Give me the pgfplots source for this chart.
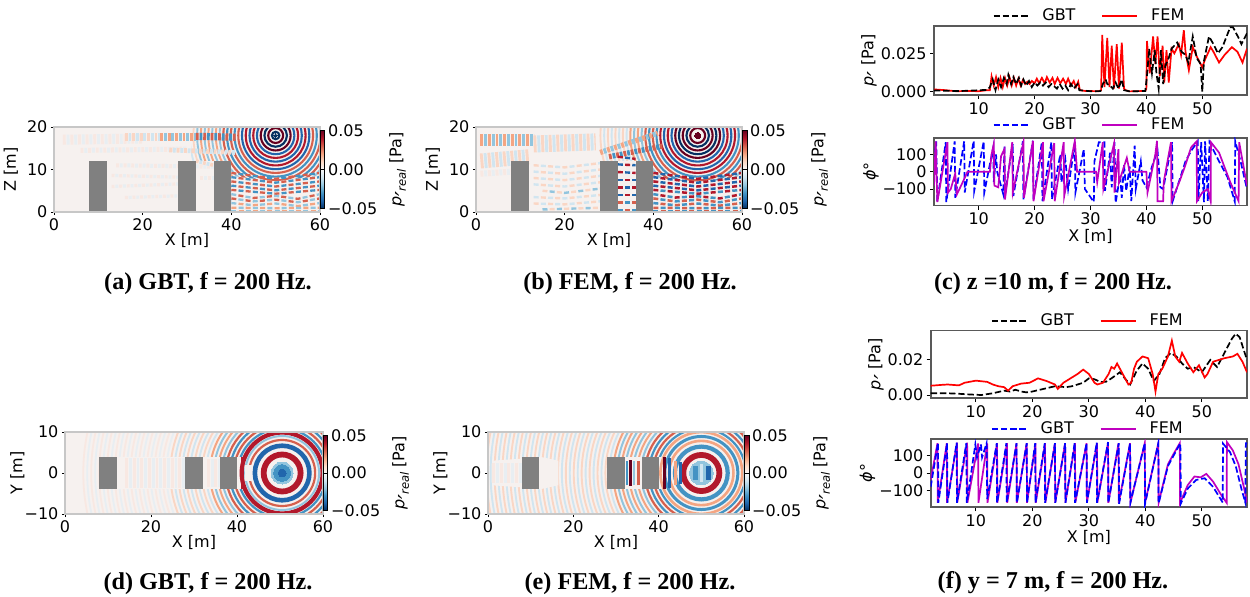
\documentclass[border=0pt]{standalone}
\usepackage{fontspec}
\setmainfont{DejaVu Sans}
\newfontfamily\capfont{Liberation Serif}
\usepackage{pgfplots}
\pgfplotsset{compat=1.18}
\definecolor{R1}{RGB}{103,0,31}\definecolor{R2}{RGB}{178,24,43}\definecolor{R3}{RGB}{214,96,77}
\definecolor{R4}{RGB}{244,165,130}\definecolor{R5}{RGB}{250,214,196}\definecolor{R6}{RGB}{248,232,226}
\definecolor{B1}{RGB}{5,48,97}\definecolor{B2}{RGB}{33,102,172}\definecolor{B3}{RGB}{67,147,195}
\definecolor{B4}{RGB}{146,197,222}\definecolor{B5}{RGB}{209,229,240}\definecolor{B6}{RGB}{232,238,242}
\definecolor{pale}{RGB}{246,241,239}
\definecolor{mag}{rgb}{0.75,0,0.75}
\newcommand{\fz}{\fontsize{8}{9.5}\selectfont}
\newcommand{\primeg}{\smash{\raisebox{-5.2pt}{\fontsize{11}{11}\selectfont\itshape ′}}}
\newcommand{\preal}{\textit{p}\primeg\raisebox{-0.5ex}{\fontsize{5.8}{6}\selectfont\itshape real} [Pa]}
\newcommand{\pp}{\textit{p}\primeg\ [Pa]}
\newcommand{\phideg}{\textit{ϕ}°}
\newcommand{\band}[5]{%
 \addplot[forget plot,no markers,draw=#1,line width=#3pt,dash pattern=on 0.75*#4pt off 1.25*#4pt] coordinates {#5};
 \addplot[forget plot,no markers,draw=#2,line width=#3pt,dash pattern=on 0.75*#4pt off 1.25*#4pt,dash phase=#4pt] coordinates {#5};}
\newcommand{\rows}[4]{%
 \addplot[forget plot,no markers,draw=#1,line width=#3pt,dash pattern=on 2.5pt off 4.7pt] coordinates {#4};
 \addplot[forget plot,no markers,draw=#2,line width=#3pt,dash pattern=on 2.5pt off 4.7pt,dash phase=3.6pt] coordinates {#4};}
\newcommand{\rings}[5]{%
 \pgfplotsinvokeforeach{#5}{\addplot[forget plot,only marks,mark=o,mark size=2.2pt*##1,mark options={draw=#3,fill=none,line width=#4pt,solid}] coordinates {(#1,#2)};}}
\newcommand{\poly}[2]{\addplot[forget plot,fill=#1,draw=none,no markers] coordinates {#2} -- cycle;}
\newcommand{\seg}[3]{\addplot[forget plot,no markers,draw=#1,line width=#2pt] coordinates {#3};}
\newcommand{\blob}[4]{\addplot[forget plot,only marks,mark=*,mark size=2.2pt*#4,mark options={draw=#3,line width=0pt,fill=#3,solid}] coordinates {(#1,#2)};}
\newcommand{\capt}[3]{\node[font=\capfont\bfseries\fontsize{12.1}{14}\selectfont,inner sep=0pt] at (#1pt,#2pt) {#3};}
\pgfplotsset{
 fieldax/.style={scale only axis,axis on top,clip mode=individual,clip marker paths=true,xmin=0,xmax=60,xtick={0,20,40,60},xticklabels={0,20,40,60},
  tick align=outside,xtick pos=bottom,ytick pos=left,major tick length=1.6pt,
  axis line style={black!22,line width=0.7pt},tick style={black,line width=0.4pt},
  ticklabel style={font=\fz,inner sep=1.5pt},label style={font=\fz},xlabel={X [m]},
  axis background/.style={fill=pale},
  xlabel style={yshift=3.5pt},ylabel style={yshift=-5pt},
  colormap={rdbu}{rgb255=(5,48,97) rgb255=(33,102,172) rgb255=(67,147,195) rgb255=(146,197,222) rgb255=(209,229,240) rgb255=(247,247,247) rgb255=(253,219,199) rgb255=(244,165,130) rgb255=(214,96,77) rgb255=(178,24,43) rgb255=(103,0,31)},
  colorbar,point meta min=-0.05,point meta max=0.05,
  colorbar style={at={(1,0.5)},anchor=west,xshift=6pt,width=2.4pt,height=39pt,scaled y ticks=false,
   ytick={-0.05,0,0.05},yticklabels={−0.05,0.00,0.05},ylabel={\preal},
   ticklabel style={font=\fz,inner sep=1.5pt},label style={font=\fz},
   major tick length=1.6pt,tick style={black,line width=0.4pt},axis line style={black,line width=0.3pt},
   ylabel style={yshift=-1pt}}},
 lineax/.style={scale only axis,xmin=2,xmax=58,xtick={10,20,30,40,50},xticklabels={10,20,30,40,50},scaled y ticks=false,
  tick align=outside,xtick pos=bottom,ytick pos=left,major tick length=2pt,
  axis line style={black!65,line width=0.8pt},tick style={black,line width=0.5pt},
  ticklabel style={font=\fz,inner sep=1.5pt},label style={font=\fz},
  legend image code/.code={\draw[##1] (0pt,0pt) -- (17.5pt,0pt);},
  legend style={at={(0.5,1)},anchor=south,draw=none,fill=none,legend columns=2,font=\fz,inner sep=0pt,yshift=-1pt,
   /tikz/every odd column/.append style={column sep=4.5pt},
   /tikz/every even column/.append style={column sep=11pt}}},
 dGBT/.style={black,line width=0.85pt,dash pattern=on 3.2pt off 1.4pt},
 dFEM/.style={red,line width=0.85pt},
 pGBT/.style={blue,line width=0.85pt,dash pattern=on 3.2pt off 1.4pt},
 pFEM/.style={mag,line width=0.85pt},
}
\begin{document}
\begin{tikzpicture}
\useasboundingbox (0,0) rectangle (625pt,298pt);
% ---------- (a)
\begin{axis}[fieldax,at={(27pt,192pt)},anchor=south west,width=133pt,height=42.5pt,ymin=0,ymax=20,
 ytick={0,10,20},yticklabels={0,10,20},ylabel={Z [m]},ylabel style={yshift=4.5pt}]
\rings{50}{18}{R5}{0.9}{18.7,20.4,22.1}
\rings{50}{18}{B5}{0.9}{19.55,21.25,22.95}
\rings{50}{18}{R4}{0.95}{13.6,15.3,17}
\rings{50}{18}{B4}{0.95}{12.75,14.45,16.15,17.85}
\rings{50}{18}{R3}{1.05}{8.5,10.2,11.9}
\rings{50}{18}{B3}{1.05}{9.35,11.05}
\rings{50}{18}{R2}{1.05}{5.1,6.8}
\rings{50}{18}{B2}{1.05}{4.25,5.95,7.65}
\rings{50}{18}{R1}{1.05}{1.7,3.4}
\rings{50}{18}{B1}{1.05}{0.85,2.55}
\blob{50}{18}{B1}{0.4}
\poly{pale}{(0,0)(40,0)(40,12)(0,12)}
\poly{pale}{(0,12)(31,12)(31,20)(0,20)}
\poly{pale}{(40,0)(60,0)(60,8.5)(50,7.2)(40,8.5)}
\band{R6}{B6}{5}{1.9}{(2,17)(20,17.3)}
\band{R6}{B6}{2.5}{1.9}{(6,14.5)(30,14.8)}
\band{R5}{B5}{2.4}{1.85}{(26,14.6)(41,14)}
\band{R6}{B6}{2}{1.9}{(14,11)(40,10.6)}
\band{R6}{B6}{1.6}{1.9}{(13,8.6)(28,8.2)}
\band{R6}{B6}{1.6}{1.9}{(13,6)(28,6.6)}
\band{R6}{B6}{1.6}{1.9}{(16,3.4)(28,3.8)}
\band{R5}{B5}{1.8}{1.85}{(32,12)(36,11)}
\band{R6}{B6}{1.6}{1.9}{(33,8)(36,8)}
\band{R5}{B5}{3.8}{1.85}{(16,17.6)(24,17.6)}
\band{R4}{B4}{4}{1.85}{(24,17.7)(32,17.7)}
\band{R3}{B3}{3.6}{1.85}{(32,17.8)(41,17.6)}
\rows{R3}{B3}{1.15}{(40,9.2)(50,7.8)(60,9.2)}
\rows{B3}{R3}{1.15}{(40,8.2)(50,6.9)(60,8.2)}
\rows{R3}{B3}{1.15}{(40,7.2)(50,6.0)(60,7.2)}
\rows{B3}{R3}{1.15}{(40,6.2)(50,5.1)(60,6.2)}
\rows{R3}{B3}{1.15}{(40,5.2)(50,4.3)(60,5.2)}
\rows{B4}{R3}{1.15}{(40,4.2)(45,3.3)(50,3.8)(55,3.1)(60,4.2)}
\rows{R3}{B4}{1.15}{(40,3.2)(45,2.5)(50,2.9)(55,2.3)(60,3.2)}
\rows{B4}{R4}{1.15}{(40,2.1)(45,1.6)(50,2)(55,1.4)(60,2.1)}
\rows{R4}{B4}{1.15}{(40,1)(50,0.9)(60,1)}
\rows{B4}{R4}{1}{(40,0.2)(60,0.2)}
\poly{black!50}{(8,0)(12,0)(12,12)(8,12)}
\poly{black!50}{(28,0)(32,0)(32,12)(28,12)}
\poly{black!50}{(36,0)(40,0)(40,12)(36,12)}
\end{axis}
% ---------- (b)
\begin{axis}[fieldax,at={(238pt,192pt)},anchor=south west,width=133pt,height=42.5pt,ymin=0,ymax=20,
 ytick={0,10,20},yticklabels={0,10,20},ylabel={Z [m]},ylabel style={yshift=4.5pt}]
\rings{50}{18}{R5}{0.95}{17,18.7,20.4,22.1}
\rings{50}{18}{B5}{0.95}{16.15,17.85,19.55,21.25}
\rings{50}{18}{R4}{1}{13.6,15.3}
\rings{50}{18}{B4}{1}{12.75,14.45}
\rings{50}{18}{R3}{1.05}{10.2,11.9}
\rings{50}{18}{B3}{1.05}{9.35,11.05}
\rings{50}{18}{R2}{1.05}{6.8,8.5}
\rings{50}{18}{B2}{1.05}{5.95,7.65}
\rings{50}{18}{R1}{1.05}{1.7,3.4,5.1}
\rings{50}{18}{B1}{1.05}{2.55,4.25}
\blob{50}{18}{R1}{0.7}
\poly{pale}{(0,0)(40,0)(40,12)(0,12)}
\poly{pale}{(0,12)(27,12)(27,20)(0,20)}
\poly{pale}{(40,0)(60,0)(60,8)(50,7)(40,8)}
\band{R5}{B5}{7.5}{1.9}{(1,12)(12,13)}
\band{R4}{B4}{6}{1.9}{(1,17)(13,17)}
\band{R5}{B5}{8.5}{1.9}{(13,16)(27,16.5)}
\band{R6}{B6}{3}{1.9}{(1,9)(8,9.5)}
\band{R4}{B4}{2.6}{1.85}{(28,14)(41,18.5)}
\band{R3}{B3}{2.6}{1.85}{(30,13)(42,15.5)}
\rows{R5}{B5}{1.2}{(13,11)(20,10.5)(28,11.5)}
\rows{B5}{R5}{1.2}{(13,9.5)(20,9)(28,10)}
\rows{R5}{B5}{1.2}{(13,8)(20,7.5)(28,8.5)}
\rows{B5}{R5}{1.2}{(13,6.5)(20,6)(28,7)}
\rows{R5}{B4}{1.2}{(15,5)(20,4.5)(28,5.5)}
\rows{B5}{R5}{1.2}{(13,3.5)(20,3.2)(28,4)}
\rows{R5}{B5}{1.2}{(13,2)(20,1.8)(28,2.5)}
\rows{B4}{R5}{1.2}{(15,0.6)(28,1)}
\rows{R2}{B2}{1.2}{(32,13)(36,12.5)}
\rows{B2}{R2}{1.2}{(32,11.2)(36,11)}
\rows{R2}{B2}{1.2}{(32,9.4)(36,9.2)}
\rows{B2}{R2}{1.2}{(32,7.6)(36,7.6)}
\rows{R2}{B2}{1.2}{(32,5.8)(36,5.8)}
\rows{B2}{R2}{1.2}{(32,4)(36,4)}
\rows{R3}{B3}{1.2}{(32,2.2)(36,2.2)}
\rows{B3}{R3}{1.2}{(32,0.5)(36,0.5)}
\rows{R2}{B2}{1.25}{(40,9.2)(50,7.8)(60,9.2)}
\rows{B2}{R2}{1.25}{(40,8.2)(50,6.9)(60,8.2)}
\rows{R2}{B2}{1.25}{(40,7.2)(50,6)(60,7.2)}
\rows{B2}{R2}{1.25}{(40,6.2)(50,5.1)(60,6.2)}
\rows{R2}{B3}{1.25}{(40,5.2)(50,4.3)(60,5.2)}
\rows{B3}{R2}{1.25}{(40,4.2)(45,3.4)(50,3.7)(55,3.2)(60,4.2)}
\rows{R3}{B3}{1.25}{(40,3.2)(45,2.5)(50,2.9)(55,2.3)(60,3.2)}
\rows{B3}{R3}{1.25}{(40,2.1)(45,1.6)(50,2)(55,1.5)(60,2.1)}
\rows{R3}{B3}{1.25}{(40,1)(50,0.9)(60,1)}
\rows{B3}{R3}{1.1}{(40,0.2)(60,0.2)}
\poly{black!50}{(8,0)(12,0)(12,12)(8,12)}
\poly{black!50}{(28,0)(32,0)(32,12)(28,12)}
\poly{black!50}{(36,0)(40,0)(40,12)(36,12)}
\end{axis}
% ---------- (d)
\begin{axis}[fieldax,at={(32.5pt,41pt)},anchor=south west,width=129pt,height=41pt,ymin=-10,ymax=10,
 ytick={-10,0,10},yticklabels={−10,0,10},ylabel={Y [m]},colorbar style={height=37.5pt}]
\rings{50.5}{0}{R6}{0.9}{27.2,29,30.8,32.6,34.4,36.2,38,39.8,41.6,43.4,45.2}
\rings{50.5}{0}{B6}{0.9}{26.3,28.1,29.9,31.7,33.5,35.3,37.1,38.9,40.7,42.5,44.3}
\rings{50.5}{0}{R5}{0.95}{18.2,20,21.8,23.6,25.4}
\rings{50.5}{0}{B5}{0.95}{17.3,19.1,20.9,22.7,24.5}
\rings{50.5}{0}{R4}{1}{14.6,16.4}
\rings{50.5}{0}{B4}{1}{13.7,15.5}
\rings{50.5}{0}{R3}{1.1}{11,12.8}
\rings{50.5}{0}{B3}{1.1}{10.1,11.9}
\poly{pale}{(12,-4)(43,-4)(43,4)(12,4)}
\band{R6}{B6}{15}{1.9}{(14,0)(28,0)}
\band{R6}{B6}{14}{1.9}{(33,0)(36,0)}
\rings{50.5}{0}{R2}{2.1}{9.2}
\rings{50.5}{0}{B4}{1.0}{8.4}
\rings{50.5}{0}{R3}{1.1}{7.5}
\rings{50.5}{0}{B2}{2.3}{6.2}
\rings{50.5}{0}{R2}{2.9}{4.2}
\blob{50.5}{0}{B4}{2.5}
\blob{50.5}{0}{B3}{1.9}
\blob{50.5}{0}{B2}{0.9}
\poly{pale}{(41.9,-2)(43.4,-2)(43.4,2)(41.9,2)}
\seg{R2}{1.7}{(41.3,-4)(41.3,4)}
\poly{black!50}{(8,-4)(12,-4)(12,4)(8,4)}
\poly{black!50}{(28,-4)(32,-4)(32,4)(28,4)}
\poly{black!50}{(36,-4)(40,-4)(40,4)(36,4)}
\end{axis}
% ---------- (e)
\begin{axis}[fieldax,at={(244pt,41pt)},anchor=south west,width=128pt,height=41pt,ymin=-10,ymax=10,
 ytick={-10,0,10},yticklabels={−10,0,10},ylabel={Y [m]},colorbar style={height=37.5pt}]
\rings{50}{0}{R5}{0.95}{21.8,23.6,25.4,27.2,29,30.8,32.6,34.4,36.2,38,39.8,41.6,43.4,45.2,47,48.8,50.6}
\rings{50}{0}{B5}{0.95}{20.9,22.7,24.5,26.3,28.1,29.9,31.7,33.5,35.3,37.1,38.9,40.7,42.5,44.3,46.1,47.9,49.7}
\rings{50}{0}{R4}{1}{14.6,16.4,18.2,20}
\rings{50}{0}{B4}{1}{13.7,15.5,17.3,19.1}
\rings{50}{0}{R3}{1.1}{11,12.8}
\rings{50}{0}{B3}{1.1}{10.1,11.9}
\poly{pale}{(12,-4)(16.5,-3)(16.5,3)(12,4)}
\poly{pale}{(32,-4)(36,-4)(36,4)(32,4)}
\poly{pale}{(1,-3)(8,-3.5)(8,3.5)(1,3)}
\poly{pale}{(40,-4)(46,-4)(46,4)(40,4)}
\band{R6}{B6}{10}{1.9}{(1,0)(8,0)}
\rings{50}{0}{R4}{1.3}{9.3}
\rings{50}{0}{B3}{1.5}{8.3}
\rings{50}{0}{R4}{1.3}{7.3}
\rings{50}{0}{B3}{2.1}{6}
\rings{50}{0}{R2}{2.9}{4.1}
\blob{50}{0}{B4}{2.7}
\seg{B3}{2.6}{(48.6,-1.7)(48.6,1.7)}
\seg{B2}{2.4}{(51.7,-1.7)(51.7,1.7)}
\seg{B5}{1.5}{(50.1,-2.2)(50.1,2.2)}
\seg{R1}{1.7}{(41.3,-4)(41.3,4)}
\seg{B2}{1.6}{(42.6,-3.6)(42.6,3.6)}
\seg{R4}{1.3}{(43.9,-3)(43.9,3)}
\seg{B2}{1.7}{(45.1,-2.6)(45.1,2.6)}
\seg{B3}{1}{(32.5,-3)(32.5,3)}
\seg{R1}{1.7}{(33.4,-3.2)(33.4,3.2)}
\seg{B4}{1}{(34.3,-3)(34.3,3)}
\seg{R3}{1.5}{(35.3,-3)(35.3,3)}
\poly{black!50}{(8,-4)(12,-4)(12,4)(8,4)}
\poly{black!50}{(28,-4)(32,-4)(32,4)(28,4)}
\poly{black!50}{(36,-4)(40,-4)(40,4)(36,4)}
\end{axis}
% ---------- (c) top
\begin{axis}[lineax,at={(467pt,250.5pt)},anchor=south west,width=156.5pt,height=34.5pt,
 ymin=-0.00215,ymax=0.0428,ytick={0,0.025},yticklabels={0.000,0.025},ylabel={\pp},ylabel style={yshift=-3pt}]
\addplot[forget plot,dFEM] coordinates {(2,.0015)(4,.001)(6,.0003)(8,.0005)(10,.0003)(11.5,.001)(12,.001)(12.3,.010)(12.7,.004)(13.1,.0095)(13.5,.003)(13.9,.009)(14.3,.003)(14.7,.009)(15.1,.004)(15.5,.0095)(15.9,.004)(16.3,.009)(16.7,.004)(17.1,.0085)(17.5,.004)(17.9,.0075)(18.3,.005)(18.7,.0065)(19.1,.005)(19.5,.007)(20,.0055)(20.4,.0085)(20.8,.0055)(21.3,.009)(21.8,.0055)(22.2,.0095)(22.7,.006)(23.2,.009)(23.6,.005)(24.1,.009)(24.6,.0055)(25.1,.0085)(25.6,.005)(26,.0085)(26.5,.004)(27,.007)(27.4,.003)(27.8,.0065)(28.1,.001)(29,.0005)(31.5,.0003)(31.9,.001)(32.1,.037)(32.5,.003)(33,.035)(33.4,.003)(33.8,.030)(34.2,.002)(34.7,.031)(35.1,.002)(35.6,.032)(36,.002)(36.3,.001)(37,.0002)(39.8,.0005)(40,.002)(40.1,.033)(40.6,.012)(41.2,.036)(41.6,.018)(42,.036)(42.4,.01)(42.9,.030)(43.2,.006)(43.6,.027)(44,.006)(44.5,.028)(45,.025)(45.8,.031)(46.2,.024)(46.7,.040)(47,.026)(47.6,.014)(48.3,.029)(49,.023)(50,.016)(50.5,.021)(51.5,.029)(52,.026)(53,.019)(54,.024)(55.3,.029)(56.3,.026)(57.2,.019)(58,.028)};
\addplot[forget plot,dGBT] coordinates {(2,.0008)(6,.0004)(8,.0006)(11.5,.0012)(12,.003)(12.5,.008)(13,.001)(13.5,.008)(14,.003)(14.5,.009)(15,.005)(15.3,.011)(15.8,.005)(16.2,.0095)(16.7,.005)(17.2,.009)(17.6,.004)(18,.008)(18.5,.004)(19,.007)(19.5,.003)(20,.006)(20.5,.004)(21,.006)(21.5,.004)(22,.006)(22.5,.003)(23,.005)(24,.002)(24.5,.005)(25,.002)(25.5,.004)(26,.001)(26.5,.005)(27,.002)(27.7,.005)(28,.001)(30,.0003)(31.8,.0004)(32.2,.005)(32.7,.008)(33,.005)(33.5,.004)(34,.002)(34.5,.006)(35,.002)(35.6,.008)(36,.001)(37,.0002)(39.8,.0005)(40.1,.01)(40.5,.028)(41,.012)(41.5,.027)(41.8,.012)(42.2,.002)(42.6,.027)(43,.005)(43.4,.017)(44,.022)(44.5,.028)(45.5,.032)(46.3,.026)(47,.024)(47.5,.019)(48.3,.036)(49,.022)(49.7,.018)(50,0)(50.3,.02)(51.2,.036)(52,.031)(52.8,.025)(53.6,.029)(55,.042)(55.5,.042)(56.5,.035)(57,.031)(58,.038)};
\addlegendimage{dGBT}\addlegendimage{dFEM}\legend{GBT,FEM}
\end{axis}
% ---------- (c) bottom
\begin{axis}[lineax,at={(467pt,195.15pt)},anchor=south west,width=156.5pt,height=34pt,
 ymin=-196,ymax=196,ytick={-100,0,100},yticklabels={−100,0,100},ylabel={\phideg},xlabel={X [m]},
 xlabel style={yshift=3pt},ylabel style={yshift=-3pt},legend style={yshift=1.5pt}]
\addplot[forget plot,pGBT] coordinates {(2,60)(2.4,175)(2.6,-170)(4.1,170)(4.2,-175)(5.7,175)(5.8,-150)(7.4,175)(7.5,-120)(9.1,178)(9.2,-110)(10.9,175)(11,-120)(12.6,140)(12.7,-60)(13.1,100)(13.3,0)(14.4,-130)(14.6,150)(14.7,-130)(16.1,160)(16.2,-140)(17.9,175)(18,-160)(19.7,178)(19.8,-160)(21.3,170)(21.4,-170)(23,170)(23.1,-160)(24.6,100)(24.8,-60)(25.5,70)(26,-100)(27.2,165)(27.3,-120)(28.8,130)(29,-100)(30.6,-175)(30.7,60)(31.5,170)(32.5,170)(32.6,-110)(33.5,110)(33.8,-90)(34.3,170)(34.5,-180)(35.3,-20)(35.6,-150)(36,40)(36.4,-110)(37,30)(37.3,-170)(37.9,150)(38.1,-100)(39,60)(39.3,-50)(40,-90)(41,30)(42,120)(42.5,-90)(43,-100)(44.6,170)(44.7,-170)(46,-40)(47,60)(48,120)(49.2,175)(49.3,-170)(49.8,170)(50.3,-175)(50.5,175)(51,-170)(51.3,170)(53,60)(54.5,-30)(55.8,-170)(55.9,175)(57,40)(58,-100)};
\addplot[forget plot,pFEM] coordinates {(2,-80)(2.3,175)(2.6,-175)(4.4,170)(4.5,-120)(5,-100)(5.8,-10)(6.1,-130)(7,-70)(8,0)(12,0)(12.3,100)(12.7,160)(12.8,-80)(13.5,-90)(14,90)(14.6,130)(14.7,-160)(16,170)(16.1,-120)(18,170)(18.1,-150)(19.7,178)(19.8,-170)(21.5,170)(21.6,-170)(23.5,165)(23.6,-170)(25.2,170)(25.3,-140)(27.2,178)(27.6,0)(31,0)(31.2,-60)(32.2,170)(32.3,-100)(34.2,160)(34.3,-120)(35,130)(35.1,-60)(36.5,80)(37,0)(40,0)(40.2,-120)(41.6,100)(41.9,178)(42,-170)(43,-170)(43.1,-60)(44.4,170)(44.5,-170)(46,-50)(47,40)(48,140)(49,175)(49.05,-170)(50,-120)(51,-100)(51.5,-170)(51.55,170)(53,110)(55,-60)(56.5,-170)(56.6,170)(58,-80)};
\addlegendimage{pGBT}\addlegendimage{pFEM}\legend{GBT,FEM}
\end{axis}
% ---------- (f) top
\begin{axis}[lineax,at={(465.35pt,99pt)},anchor=south west,width=158.15pt,height=33.65pt,
 ymin=-0.0017,ymax=0.0367,ytick={0,0.02},yticklabels={0.00,0.02},ylabel={\pp},ylabel style={yshift=-3pt}]
\addplot[forget plot,dGBT] coordinates {(2,.001)(5,.001)(7,.0007)(9,.0003)(11,0)(13,.001)(15,.0025)(16,.002)(17,.003)(18,.002)(19,.0015)(20,.002)(22,.0035)(24,.005)(26,.0045)(27,.005)(29,.007)(30,.0095)(31,.009)(32,.0075)(33,.0075)(34,.0095)(35.5,.013)(36.5,.009)(37.3,.006)(38.5,.014)(39.5,.018)(40.5,.015)(41.5,.008)(42.5,.012)(43.5,.021)(44.5,.024)(45.5,.022)(46.5,.018)(47.5,.015)(48.5,.016)(50,.013)(51.5,.020)(52.7,.016)(54,.024)(55.3,.032)(56,.035)(56.7,.033)(57.5,.025)(58,.020)};
\addplot[forget plot,dFEM] coordinates {(2,.0053)(4,.0058)(5,.0060)(7,.0055)(8,.0070)(10,.0082)(12,.0075)(13,.006)(14,.005)(15,.0045)(15.7,.0025)(16.5,.005)(18,.0065)(19.5,.007)(21,.0095)(22.5,.008)(24,.006)(24.5,.0035)(25.5,.007)(27,.010)(28,.012)(29,.0145)(30,.012)(31,.007)(31.5,.006)(32.5,.007)(33.5,.012)(34,.016)(34.5,.015)(35,.018)(36,.012)(37,.006)(37.5,.007)(38,.015)(38.5,.019)(39.5,.022)(40.5,.021)(41.3,.012)(41.8,.002)(42.3,.012)(43,.015)(44,.022)(44.7,.031)(45.3,.022)(46,.019)(46.5,.024)(47.5,.018)(48.5,.013)(49.5,.017)(50.5,.010)(51,.012)(52,.019)(54,.021)(55.5,.022)(56.3,.0235)(57.2,.019)(58,.013)};
\addlegendimage{dGBT}\addlegendimage{dFEM}\legend{GBT,FEM}
\end{axis}
% ---------- (f) bottom
\begin{axis}[lineax,at={(465.35pt,44.5pt)},anchor=south west,width=158.15pt,height=34pt,
 ymin=-196,ymax=196,ytick={-100,0,100},yticklabels={−100,0,100},ylabel={\phideg},xlabel={X [m]},
 xlabel style={yshift=3pt},ylabel style={yshift=-3pt}]
\addplot[forget plot,pFEM] coordinates {(2,-40)(3.2,172)(3.25,-172)(4.85,172)(4.9,-172)(6.65,175)(6.7,-172)(8.45,175)(8.5,-172)(10.4,170)(10.45,-172)(12,170)(12.05,-172)(13.75,172)(13.8,-172)(15.5,172)(15.55,-172)(17.2,172)(17.25,-172)(19,172)(19.05,-172)(20.55,172)(20.6,-172)(22.25,172)(22.3,-172)(24,172)(24.05,-172)(25.8,172)(25.85,-172)(27.55,172)(27.6,-172)(29.6,172)(29.65,-172)(31.45,172)(31.5,-172)(33.4,175)(33.45,-172)(35.25,172)(35.3,-172)(37.3,172)(37.35,-172)(39.9,172)(39.95,-172)(42.3,172)(42.35,-172)(44,50)(45,110)(46.1,172)(46.15,-172)(47.5,-70)(48.7,-20)(49.8,-25)(50.8,-5)(52,-50)(53.5,-130)(54.4,-172)(54.45,178)(55.5,130)(56.5,50)(57.5,-90)(58,-170)};
\addplot[forget plot,pGBT] coordinates {(2,-80)(3.3,175)(3.35,-172)(4.9,172)(4.95,-172)(6.6,175)(6.65,-172)(8.3,172)(8.4,-172)(9.9,165)(10.2,90)(10.9,165)(11.1,90)(11.9,172)(12,-150)(13.7,172)(13.75,-172)(15.4,172)(15.45,-172)(17.2,172)(17.25,-172)(19,172)(19.05,-172)(20.5,172)(20.55,-172)(22.2,172)(22.25,-172)(24,172)(24.05,-172)(25.8,172)(25.85,-172)(27.5,175)(27.55,-172)(29.6,172)(29.65,-172)(31.4,175)(31.45,-172)(33.4,178)(33.45,-172)(35.3,172)(35.35,-178)(37.3,172)(37.35,-172)(39.9,172)(39.95,-178)(42.3,172)(42.35,-175)(44,40)(45,100)(46.2,172)(46.3,-175)(47.5,-90)(49,-40)(50.5,-30)(52,-80)(53.7,-170)(53.75,170)(55,120)(56,40)(57,-90)(57.7,-170)(57.8,172)(58,172)};
\addlegendimage{pGBT}\addlegendimage{pFEM}\legend{GBT,FEM}
\end{axis}
% ---------- captions
\capt{104}{156}{(a) GBT, f = 200 Hz.}
\capt{315}{156}{(b) FEM, f = 200 Hz.}
\capt{526.5}{156}{(c) z =10 m, f = 200 Hz.}
\capt{104}{6.2}{(d) GBT, f = 200 Hz.}
\capt{315}{6.2}{(e) FEM, f = 200 Hz.}
\capt{526.5}{6.5}{(f) y = 7 m, f = 200 Hz.}
\end{tikzpicture}
\end{document}
